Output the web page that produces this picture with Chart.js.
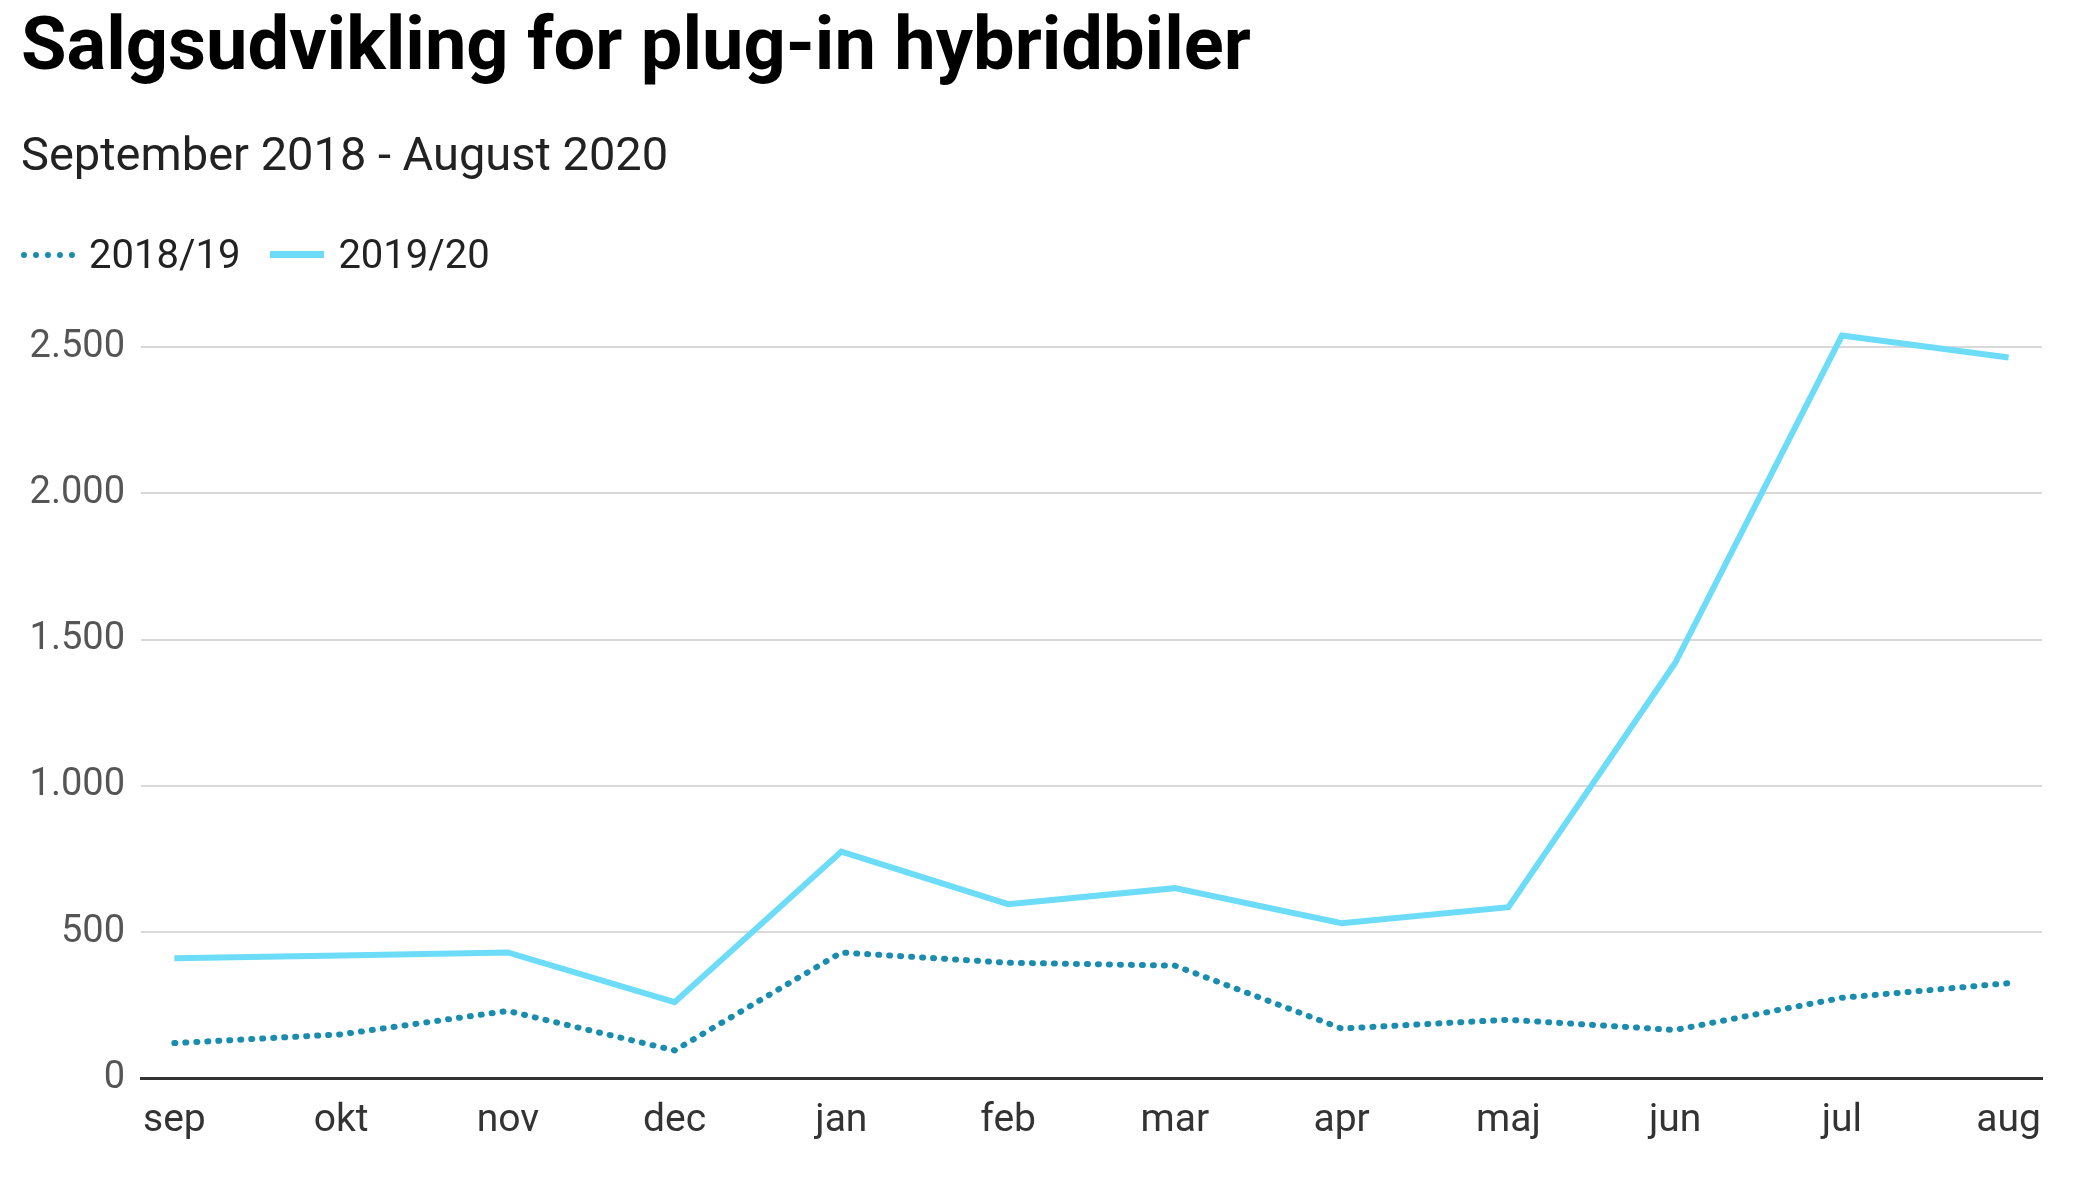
<!DOCTYPE html>
<html><head><meta charset="utf-8">
<script src="https://cdn.jsdelivr.net/npm/chart.js@4"></script>
<style>
body{margin:0;background:#fff;font-family:Roboto,sans-serif;width:2083px;height:1187px;overflow:hidden;position:relative}
h1{position:absolute;left:21px;top:0px;margin:0;font-size:74px;font-weight:700;color:#000}
.sub{position:absolute;left:21px;top:126px;font-size:47px;color:#222}
.leg{position:absolute;left:21px;top:231px;font-size:40px;color:#222;display:flex;align-items:center}
.sw{width:54px;height:0;margin-right:14px}
#wrap{position:absolute;left:0;top:0;width:2083px;height:1187px}
</style></head><body>
<div id="wrap"><canvas id="c"></canvas></div>
<h1>Salgsudvikling for plug-in hybridbiler</h1>
<div class="sub">September 2018 - August 2020</div>
<div class="leg"><span class="sw" style="border-top:6px dotted #1a8dae"></span>2018/19<span class="sw" style="border-top:7px solid #6ddcf8;margin-left:30px"></span>2019/20</div>
<script>
const months = ['sep','okt','nov','dec','jan','feb','mar','apr','maj','jun','jul','aug'];
const sales1819 = [120,150,230,95,430,395,385,170,200,165,275,325];
const sales1920 = [410,420,430,260,775,595,650,530,585,1420,2540,2465];

const fmt = v => String(v).replace(/\B(?=(\d{3})+(?!\d))/g, '.');
const pts = arr => arr.map((v, i) => ({ x: i, y: v }));

new Chart(document.getElementById('c'), {
    type: 'line',
    data: {
        datasets: [
            { data: pts(sales1819), borderColor: '#1a8dae', borderWidth: 6, borderDash: [1, 10], borderCapStyle: 'round', pointRadius: 0, tension: 0 },
            { data: pts(sales1920), borderColor: '#6ddcf8', borderWidth: 6, pointRadius: 0, tension: 0 }
        ]
    },
    options: {
        responsive: true,
        maintainAspectRatio: false,
        animation: false,
        layout: { padding: { top: 318, right: 41, bottom: 30, left: 0 } },
        plugins: { legend: { display: false }, tooltip: { enabled: false } },
        scales: {
            x: {
                type: 'linear', min: -0.2, max: 11.2,
                grid: { display: false },
                border: { color: '#333', width: 3 },
                afterBuildTicks: s => { s.ticks = months.map((m, i) => ({ value: i })); },
                ticks: { color: '#333', font: { family: 'Roboto', size: 39 }, padding: 12, maxRotation: 0, autoSkip: false,
                    callback: v => months[v] }
            },
            y: {
                min: 0, max: 2600,
                afterFit: s => { s.width = 141; },
                afterBuildTicks: s => { s.ticks = [0, 500, 1000, 1500, 2000, 2500].map(v => ({ value: v })); },
                grid: { color: '#d9d9d9', lineWidth: 2, drawTicks: false },
                border: { display: false },
                ticks: { color: '#555', font: { family: 'Roboto', size: 38 }, padding: 16, callback: v => fmt(v) }
            }
        }
    }
});
</script>
</body></html>
